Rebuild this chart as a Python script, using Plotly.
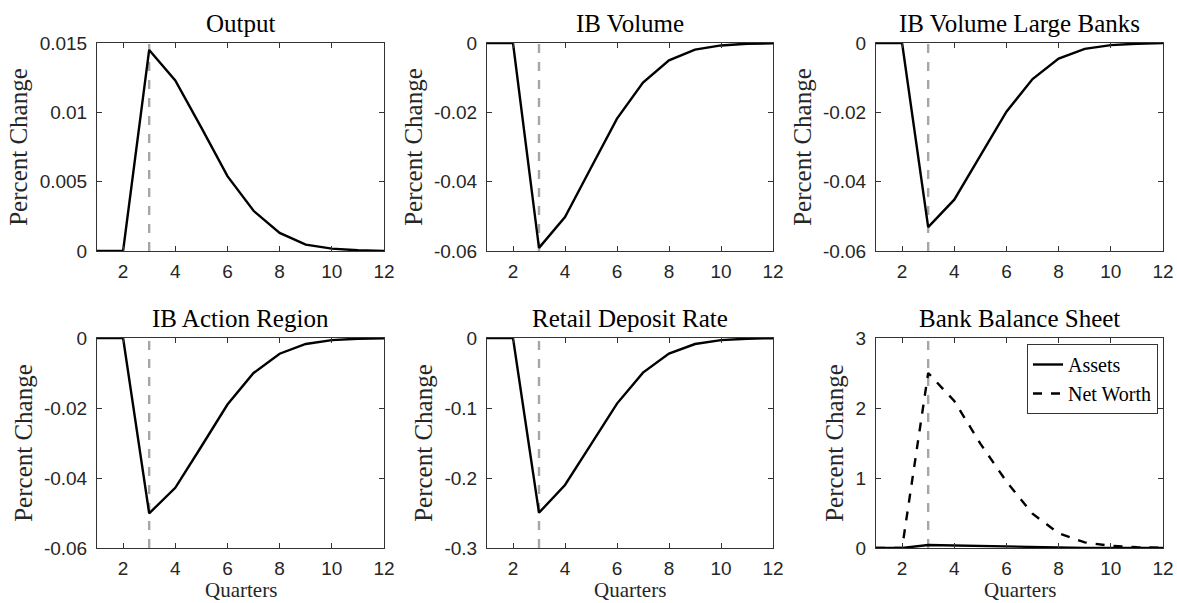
import plotly.graph_objects as go

quarters = list(range(1, 13))
shock_quarter = 3

output = [0, 0, 0.0145, 0.0123, 0.0089, 0.0054, 0.0029, 0.0013, 0.00046, 0.00017, 0.00005, 0.00001]
ib_volume = [0, 0, -0.0591, -0.0502, -0.0360, -0.0218, -0.0114, -0.0050, -0.0019, -0.0007, -0.0002, -0.0001]
ib_volume_large = [0, 0, -0.0531, -0.0452, -0.0325, -0.0198, -0.0104, -0.0045, -0.0017, -0.0006, -0.0002, -0.00005]
ib_action = [0, 0, -0.0501, -0.0428, -0.0310, -0.0190, -0.0100, -0.0045, -0.0017, -0.0006, -0.0002, -0.00005]
retail_rate = [0, 0, -0.2496, -0.2100, -0.1520, -0.0937, -0.0495, -0.0223, -0.0086, -0.0030, -0.0010, -0.0003]
assets = [0, 0, 0.043, 0.035, 0.025, 0.016, 0.009, 0.005, 0.002, 0.001, 0.0004, 0.0001]
net_worth = [0, 0, 2.50, 2.10, 1.49, 0.95, 0.49, 0.21, 0.08, 0.03, 0.01, 0.003]

titles = ["Output", "IB Volume", "IB Volume Large Banks",
          "IB Action Region", "Retail Deposit Rate", "Bank Balance Sheet"]

x_ticks = [2, 4, 6, 8, 10, 12]
yticks = [
    ([0, 0.005, 0.01, 0.015], ["0", "0.005", "0.01", "0.015"]),
    ([-0.06, -0.04, -0.02, 0], ["-0.06", "-0.04", "-0.02", "0"]),
    ([-0.06, -0.04, -0.02, 0], ["-0.06", "-0.04", "-0.02", "0"]),
    ([-0.06, -0.04, -0.02, 0], ["-0.06", "-0.04", "-0.02", "0"]),
    ([-0.3, -0.2, -0.1, 0], ["-0.3", "-0.2", "-0.1", "0"]),
    ([0, 1, 2, 3], ["0", "1", "2", "3"]),
]
yranges = [[0, 0.015], [-0.06, 0], [-0.06, 0], [-0.06, 0], [-0.3, 0], [0, 3]]

W, H = 1177, 603
xdom_px = [(97, 384), (487, 773), (876, 1163)]
ydom_px = [(43, 251), (338, 548)]

SERIF = "Liberation Serif"
SANS = "Liberation Sans"
AXC = "#333333"

fig = go.Figure()
series = [output, ib_volume, ib_volume_large, ib_action, retail_rate]

for i in range(6):
    r, c = divmod(i, 3)
    n = i + 1
    xa = "x" if n == 1 else f"x{n}"
    ya = "y" if n == 1 else f"y{n}"
    if i < 5:
        fig.add_trace(go.Scatter(x=quarters, y=series[i], mode="lines",
                                 line=dict(color="black", width=2.4),
                                 xaxis=xa, yaxis=ya, showlegend=False))
    else:
        fig.add_trace(go.Scatter(x=quarters, y=assets, mode="lines", name="Assets",
                                 line=dict(color="black", width=2.4),
                                 xaxis=xa, yaxis=ya))
        fig.add_trace(go.Scatter(x=quarters, y=net_worth, mode="lines", name="Net Worth",
                                 line=dict(color="black", width=2.4, dash="dash"),
                                 xaxis=xa, yaxis=ya))
    fig.add_shape(type="line", xref=xa, yref=f"{ya} domain",
                  x0=shock_quarter, x1=shock_quarter, y0=0, y1=1,
                  line=dict(color="#a6a6a6", width=2.4, dash="dash"), layer="below")
    x0, x1 = xdom_px[c]
    y0, y1 = ydom_px[r]
    common = dict(showline=True, linecolor=AXC, linewidth=1, mirror="ticks",
                  ticks="inside", ticklen=5, tickcolor=AXC, showgrid=False,
                  zeroline=False, automargin=False,
                  tickfont=dict(family=SANS, size=19, color="#262626"))
    fig.layout[f"xaxis{'' if n == 1 else n}"] = dict(
        domain=[x0 / W, x1 / W], anchor=ya, range=[1, 12], tickvals=x_ticks,
        ticklabelstandoff=3, **common)
    fig.layout[f"yaxis{'' if n == 1 else n}"] = dict(
        domain=[1 - y1 / H, 1 - y0 / H], anchor=xa, range=yranges[i],
        tickvals=yticks[i][0], ticktext=yticks[i][1], ticklabelstandoff=5,
        title=dict(text="Percent Change", font=dict(family=SERIF, size=25, color="#262626"), standoff=4),
        **common)
    fig.add_annotation(text=titles[i], xref="paper", yref="paper",
                       x=(x0 + x1) / 2 / W, y=1 - y0 / H, yanchor="bottom", xanchor="center",
                       showarrow=False, yshift=4,
                       font=dict(family=SERIF, size=25, color="black"))
    if r == 1:
        fig.add_annotation(text="Quarters", xref="paper", yref="paper",
                           x=(x0 + x1) / 2 / W, y=0, yanchor="bottom", xanchor="center",
                           showarrow=False, yshift=0, borderpad=0,
                           font=dict(family=SERIF, size=21, color="#262626"))

fig.update_layout(
    width=W, height=H, margin=dict(l=0, r=0, t=0, b=0, autoexpand=False),
    paper_bgcolor="white", plot_bgcolor="white",
    legend=dict(x=1158 / W, y=1 - 344 / H, xanchor="right", yanchor="top",
                bgcolor="white", bordercolor=AXC, borderwidth=1,
                font=dict(family=SERIF, size=20, color="black"),
                tracegroupgap=0, itemwidth=30),
)

fig.write_html("out.html")
